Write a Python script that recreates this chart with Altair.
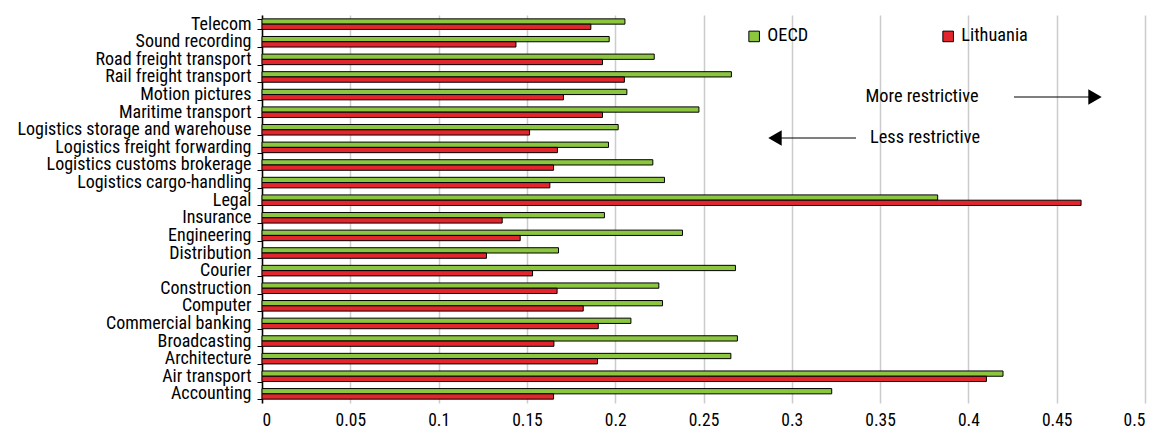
import altair as alt
import pandas as pd

categories = ["Telecom", "Sound recording", "Road freight transport", "Rail freight transport",
              "Motion pictures", "Maritime transport", "Logistics storage and warehouse",
              "Logistics freight forwarding", "Logistics customs brokerage", "Logistics cargo-handling",
              "Legal", "Insurance", "Engineering", "Distribution", "Courier", "Construction",
              "Computer", "Commercial banking", "Broadcasting", "Architecture", "Air transport",
              "Accounting"]
oecd = [0.2055, 0.1966, 0.2221, 0.2658, 0.2066, 0.2474, 0.2017, 0.1962, 0.2213, 0.2279,
        0.3826, 0.1939, 0.2381, 0.1679, 0.2681, 0.2247, 0.2268, 0.2089, 0.2692, 0.2655,
        0.4196, 0.3226]
lithuania = [0.1862, 0.1438, 0.1928, 0.2052, 0.1707, 0.1928, 0.1515, 0.1673, 0.1651, 0.1630,
             0.4638, 0.1360, 0.1462, 0.1271, 0.1532, 0.1671, 0.1819, 0.1904, 0.1653, 0.1900,
             0.4102, 0.1651]
series = ["OECD", "Lithuania"]
colors = ["#8cc63f", "#e3262d"]
x_ticks = [0, 0.05, 0.1, 0.15, 0.2, 0.25, 0.3, 0.35, 0.4, 0.45, 0.5]
annotations = ["More restrictive", "Less restrictive"]

FONT = "Roboto Condensed, Liberation Sans Narrow, Arial Narrow, sans-serif"
FS = 18.3

rows = []
for i, c in enumerate(categories):
    rows.append({"category": c, "series": series[0], "value": oecd[i]})
    rows.append({"category": c, "series": series[1], "value": lithuania[i]})
df = pd.DataFrame(rows)

bars = alt.Chart(df).mark_bar(stroke="black", strokeWidth=1).encode(
    y=alt.Y("category:N", sort=categories,
            scale=alt.Scale(paddingInner=0.4, paddingOuter=0.22),
            axis=alt.Axis(title=None, domainColor="black", domainWidth=1.5,
                          tickColor="black", tickSize=5, tickBand="extent",
                          labelFont=FONT, labelFontSize=18, labelColor="black",
                          labelPadding=6, labelLimit=400)),
    yOffset=alt.YOffset("series:N", sort=series),
    x=alt.X("value:Q", scale=alt.Scale(domain=[0, 0.5], nice=False),
            axis=alt.Axis(title=None, domain=False, ticks=False, grid=True,
                          gridColor="#cccccc", gridWidth=1.5, values=x_ticks, format="~g",
                          labelFont=FONT, labelFontSize=17.5, labelColor="black",
                          labelPadding=8)),
    color=alt.Color("series:N", sort=series,
                    scale=alt.Scale(domain=series, range=colors),
                    legend=alt.Legend(title=None, orient="none", legendX=483, legendY=12,
                                      direction="horizontal", symbolType="square",
                                      symbolSize=112, symbolStrokeColor="black",
                                      symbolStrokeWidth=1, labelFont=FONT, labelFontSize=FS,
                                      labelColor="black", labelOffset=4, columnPadding=130,
                                      padding=0)),
)

ann_df = pd.DataFrame({"t": annotations})
more_txt = alt.Chart(ann_df.iloc[[0]]).mark_text(font=FONT, fontSize=FS, color="black",
                                                 align="center", baseline="middle").encode(
    text="t:N", x=alt.value(660), y=alt.value(82))
less_txt = alt.Chart(ann_df.iloc[[1]]).mark_text(font=FONT, fontSize=FS, color="black",
                                                 align="center", baseline="middle").encode(
    text="t:N", x=alt.value(663), y=alt.value(123))

more_line = alt.Chart(ann_df.iloc[[0]]).mark_rule(color="black", strokeWidth=1.2).encode(
    x=alt.value(752), x2=alt.value(833), y=alt.value(82))
more_head = alt.Chart(ann_df.iloc[[0]]).mark_point(shape="triangle-right", filled=True,
                                                   color="black", size=240, opacity=1).encode(
    x=alt.value(833), y=alt.value(82))
less_line = alt.Chart(ann_df.iloc[[1]]).mark_rule(color="black", strokeWidth=1.2).encode(
    x=alt.value(513), x2=alt.value(594), y=alt.value(123))
less_head = alt.Chart(ann_df.iloc[[1]]).mark_point(shape="triangle-left", filled=True,
                                                   color="black", size=240, opacity=1).encode(
    x=alt.value(513), y=alt.value(123))

chart = alt.layer(bars, more_txt, less_txt, more_line, more_head, less_line, less_head).properties(
    width=883, height=388,
    autosize=alt.AutoSizeParams(type="none"),
    padding={"left": 254, "top": 7, "right": 8, "bottom": 26},
    background="white",
).configure_view(stroke="transparent")

chart.save("out.html", embed_options={"renderer": "svg", "actions": False})
